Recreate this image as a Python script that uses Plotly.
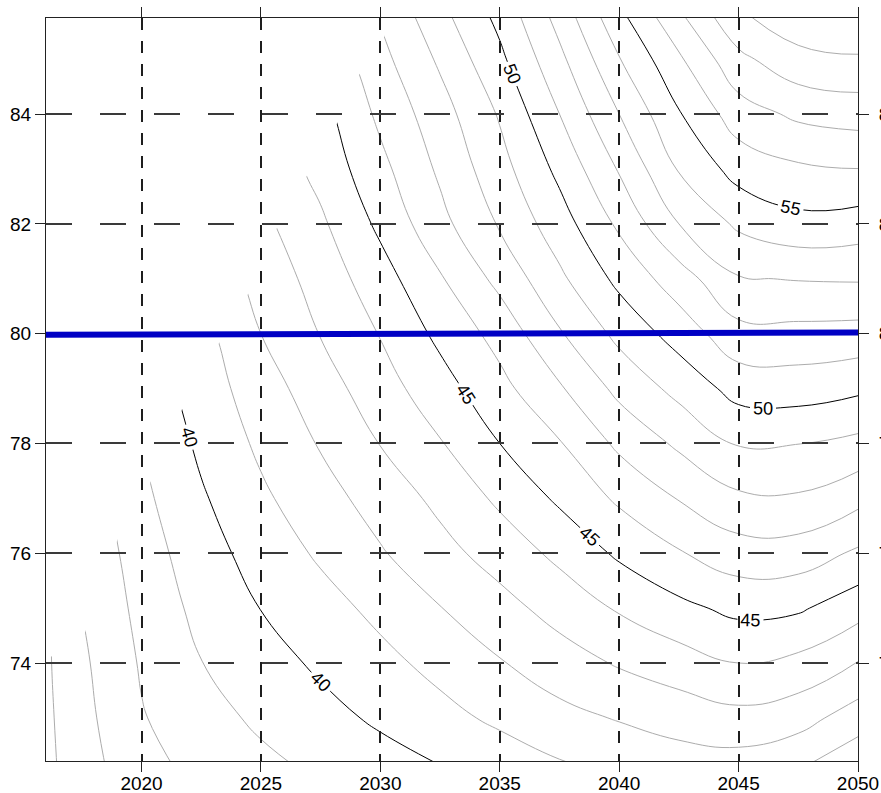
import plotly.graph_objects as go

# ---- data ----
grid_years = [2015, 2017.5, 2020, 2022.5, 2025, 2027.5, 2030, 2032.5, 2035,
              2037.5, 2040, 2042.5, 2045, 2047.5, 2050]
grid_y = [72, 73, 74, 75, 76, 77, 78, 79, 80, 81, 82, 83, 84, 85, 86]

z_72 = [35.2, 36.56, 37.62, 38.26, 38.7, 39.12, 39.51, 39.89, 40.32, 40.77, 41.1, 41.4, 41.39, 40.97, 40.04]
z_73 = [35.2, 36.69, 37.93, 38.61, 39.19, 39.67, 40.17, 40.69, 41.2, 41.7, 42.07, 42.41, 42.7, 42.4, 41.5]
z_74 = [35.2, 36.82, 38.1, 38.98, 39.59, 40.17, 40.72, 41.3, 41.93, 42.54, 43.1, 43.55, 44.0, 43.73, 42.96]
z_75 = [35.1, 37.0, 38.29, 39.29, 40.02, 40.62, 41.26, 41.97, 42.65, 43.38, 44.11, 44.75, 45.26, 45.14, 44.4]
z_76 = [35.5, 37.16, 38.5, 39.58, 40.4, 41.15, 41.91, 42.67, 43.42, 44.24, 45.17, 45.92, 46.55, 46.53, 45.84]
z_77 = [35.9, 37.4, 38.76, 39.88, 40.82, 41.62, 42.41, 43.25, 44.19, 45.17, 46.17, 47.05, 47.82, 47.88, 47.29]
z_78 = [36.3, 37.75, 39.02, 40.2, 41.19, 42.08, 43.03, 43.93, 45.0, 45.93, 47.21, 48.18, 49.08, 49.02, 48.74]
z_79 = [36.7, 38.1, 39.35, 40.48, 41.53, 42.54, 43.57, 44.59, 45.7, 46.88, 48.27, 49.3, 50.38, 50.47, 50.19]
z_80 = [37.1, 38.45, 39.7, 40.68, 42.0, 43.04, 44.05, 45.24, 46.35, 47.9, 49.27, 50.42, 51.68, 51.7, 51.64]
z_81 = [37.6, 38.85, 40.1, 41.25, 42.34, 43.41, 44.58, 45.9, 47.29, 48.8, 50.26, 51.53, 52.93, 53.05, 53.09]
z_82 = [38.1, 39.25, 40.5, 41.7, 42.75, 43.83, 45.21, 46.7, 48.1, 49.55, 51.18, 53.0, 54.18, 54.7, 54.54]
z_83 = [38.6, 39.65, 40.9, 42.1, 43.2, 44.32, 45.72, 47.17, 48.63, 50.25, 52.09, 54.08, 55.39, 55.84, 55.99]
z_84 = [39.0, 40.05, 41.3, 42.35, 43.5, 44.64, 46.22, 47.58, 49.1, 51.0, 53.0, 54.92, 56.53, 57.2, 57.43]
z_85 = [39.4, 40.45, 41.7, 42.8, 44.0, 45.13, 46.7, 48.16, 49.78, 51.75, 53.95, 55.84, 57.75, 58.68, 58.88]
z_86 = [39.8, 40.9, 42.1, 43.3, 44.5, 45.8, 47.2, 48.84, 50.42, 52.55, 55.0, 57.1, 59.07, 59.95, 60.22]

# edge of the region where the surface has data (upper-left part is empty)
edge_years = [2015.0, 2016.23, 2017.63, 2019.0, 2020.3, 2021.68, 2023.24, 2024.44,
              2025.68, 2026.95, 2028.2, 2029.07, 2030.16, 2030.9]
edge_values = [73.95, 74.12, 74.55, 76.26, 77.22, 78.61, 79.83, 80.71,
               81.94, 82.9, 83.84, 84.69, 85.4, 86.5]

# blue reference line
line_years = [2016, 2050]
line_values = [79.98, 80.02]

# thin grey levels and labelled black levels
grey_starts = [36, 37, 38, 39]
black_levels = [40, 45, 50, 55]
black_label_counts = [65, 79, 50, 1]   # controls plotly's label spacing per level

x_ticks = [2020, 2025, 2030, 2035, 2040, 2045, 2050]
y_ticks = [74, 76, 78, 80, 82, 84]

x_range = [2016, 2050]
y_range = [72.215, 85.75]

Z = [z_72, z_73, z_74, z_75, z_76, z_77, z_78, z_79, z_80, z_81, z_82, z_83, z_84, z_85, z_86]

FONT = "Liberation Sans, Arial, sans-serif"

fig = go.Figure()


def contour_trace(start, end, size, color, labels):
    return go.Contour(
        x=grid_years, y=grid_y, z=Z, xaxis="x", yaxis="y",
        autocontour=False,
        contours=dict(start=start, end=end, size=size, coloring="none",
                      showlabels=labels,
                      labelfont=dict(size=18, color="black", family=FONT)),
        line=dict(color=color, width=1, smoothing=1.3),
        showscale=False, hoverinfo="skip",
    )


for s in grey_starts:
    fig.add_trace(contour_trace(s, 59, 5, "#acacac", False))
# one trace per labelled level; the extra (empty) levels far above the data
# only change how densely plotly spaces the labels along the line
for lev, n in zip(black_levels, black_label_counts):
    fig.add_trace(contour_trace(lev, lev + 100 * (n - 1), 100, "black", True))

# white cover over the empty part of the surface
mask_x = edge_years + [x_range[0] - 2, x_range[0] - 2]
mask_y = edge_values + [y_range[1] + 2, edge_values[0]]
fig.add_trace(go.Scatter(x=mask_x, y=mask_y, fill="toself", fillcolor="white",
                         mode="lines", line=dict(width=0, color="white"),
                         xaxis="x", yaxis="y", hoverinfo="skip"))

# top subplot: grid, axes and the blue line
fig.add_trace(go.Scatter(x=line_years, y=line_values, mode="lines",
                         line=dict(color="#0000c4", width=6),
                         xaxis="x2", yaxis="y2", hoverinfo="skip"))
fig.add_trace(go.Scatter(x=[], y=[], xaxis="x2", yaxis="y3", hoverinfo="skip"))

tickfont = dict(family=FONT, size=19, color="black")

fig.update_layout(
    width=881, height=793,
    margin=dict(l=46, r=23, t=18, b=32, autoexpand=False),
    paper_bgcolor="white", plot_bgcolor="rgba(0,0,0,0)",
    showlegend=False,
    xaxis=dict(range=x_range, domain=[0, 1], anchor="y", visible=False,
               automargin=False),
    yaxis=dict(range=y_range, domain=[0, 1], anchor="x", visible=False,
               automargin=False),
    xaxis2=dict(range=x_range, domain=[0, 1], anchor="y2", automargin=False,
                tickvals=x_ticks, ticks="outside", ticklen=10, tickwidth=1,
                tickcolor="#222", showline=True, linecolor="#222", linewidth=1,
                mirror="ticks", showgrid=True, gridcolor="#1e1e1e", gridwidth=2,
                griddash="12px,11px", zeroline=False, tickfont=tickfont,
                ticklabelstandoff=-5),
    yaxis2=dict(range=y_range, domain=[0, 1], anchor="x2", automargin=False,
                tickvals=y_ticks, ticks="outside", ticklen=10, tickwidth=1,
                tickcolor="#222", showline=True, linecolor="#222", linewidth=1,
                mirror=True, showgrid=True, gridcolor="#3a3a3a", gridwidth=2,
                griddash="26px,28px", zeroline=False, tickfont=tickfont),
    yaxis3=dict(range=y_range, overlaying="y2", side="right", anchor="x2",
                automargin=False,
                tickvals=y_ticks, ticks="outside", ticklen=10, tickwidth=1,
                tickcolor="#222", showgrid=False, showline=False, zeroline=False,
                tickfont=tickfont, ticklabelstandoff=6),
)

fig.write_html("out.html",
               config={"displayModeBar": False, "staticPlot": True},
               post_script="document.body.style.margin='0';"
                           "document.body.style.overflow='hidden';")
